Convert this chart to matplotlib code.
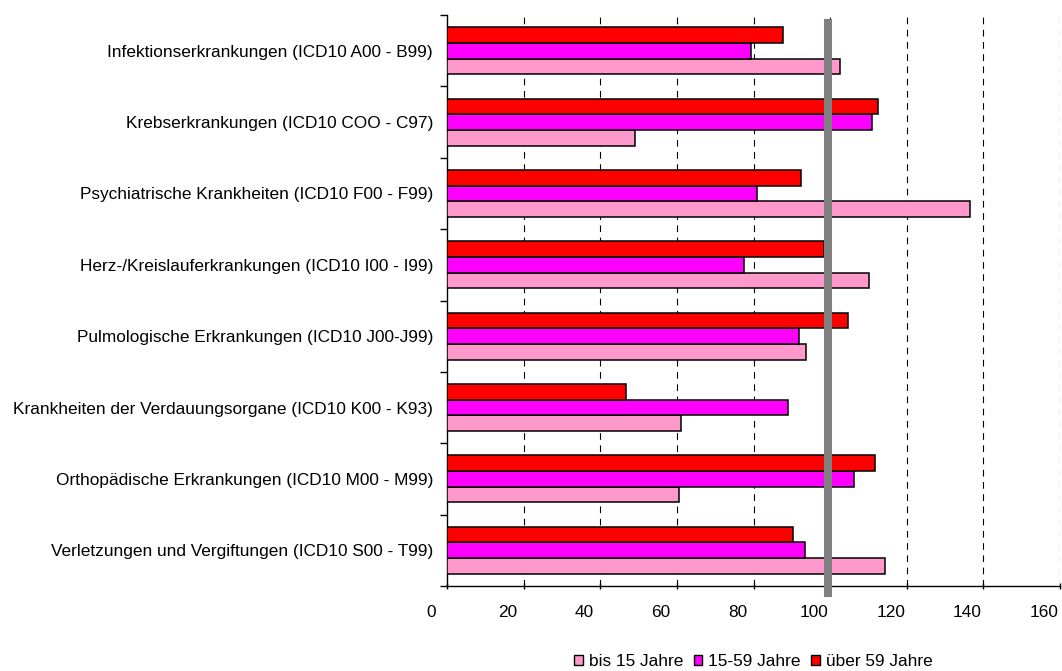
import matplotlib
matplotlib.use("Agg")
import matplotlib.pyplot as plt
import numpy as np
from matplotlib.patches import Patch
from matplotlib.transforms import ScaledTranslation

plt.rcParams['font.family'] = ['Liberation Sans', 'DejaVu Sans']

categories = [
    "Infektionserkrankungen (ICD10 A00 - B99)",
    "Krebserkrankungen (ICD10 COO - C97)",
    "Psychiatrische Krankheiten (ICD10 F00 - F99)",
    "Herz-/Kreislauferkrankungen (ICD10 I00 - I99)",
    "Pulmologische Erkrankungen (ICD10 J00-J99)",
    "Krankheiten der Verdauungsorgane (ICD10 K00 - K93)",
    "Orthopädische Erkrankungen (ICD10 M00 - M99)",
    "Verletzungen und Vergiftungen (ICD10 S00 - T99)",
]
bis15 = [102.5, 49.0, 136.5, 110.2, 93.8, 61.0, 60.6, 114.2]
age15_59 = [79.3, 111.0, 80.9, 77.4, 92.0, 89.1, 106.3, 93.4]
ueber59 = [87.7, 112.5, 92.4, 98.5, 104.6, 46.6, 111.8, 90.3]
series_names = ["bis 15 Jahre", "15-59 Jahre", "über 59 Jahre"]
reference = 99.4
xticks = [0, 20, 40, 60, 80, 100, 120, 140, 160]

colors = ["#FF99CC", "#FF00FF", "#FF0000"]
fs = 12.4

fig = plt.figure(figsize=(10.62, 6.71), dpi=100)
ax = fig.add_axes([447 / 1062, 1 - 586 / 671, 613 / 1062, 571 / 671])

y = np.arange(len(categories))
h = 0.22
for vals, off, col in zip([bis15, age15_59, ueber59], [h, 0, -h], colors):
    ax.barh(y + off, vals, height=h, color=col, edgecolor="black",
            linewidth=1.1, zorder=3)

# dashed grid
for x in xticks[1:]:
    ax.axvline(x, color="black", linewidth=0.8, dashes=(6, 5), zorder=1)

# reference line
ax.axvline(reference, ymin=-0.012, ymax=0.986, color="#808080",
           linewidth=5.8, zorder=4, clip_on=False)

ax.set_xlim(0, 160)
ax.set_ylim(len(categories) - 0.5, -0.5)

ax.set_xticks(xticks)
ax.tick_params(axis="x", direction="inout", length=5, width=1, pad=11,
               labelsize=fs)
shift = ScaledTranslation(-16 / 100, 0, fig.dpi_scale_trans)
for lab in ax.get_xticklabels():
    lab.set_transform(lab.get_transform() + shift)

ax.set_yticks(np.arange(len(categories) + 1) - 0.5)
ax.set_yticklabels([])
ax.set_yticks(y, minor=True)
ax.set_yticklabels(categories, minor=True)
ax.tick_params(axis="y", which="major", direction="out", length=5, width=1)
ax.tick_params(axis="y", which="minor", length=0, pad=10, labelsize=fs)

for s in ["top", "right"]:
    ax.spines[s].set_visible(False)
ax.spines["left"].set_linewidth(1)
ax.spines["bottom"].set_linewidth(1)

handles = [Patch(facecolor=c, edgecolor="black", linewidth=1) for c in colors]
fig.legend(handles, series_names, loc="center", bbox_to_anchor=(0.7095, 0.014),
           ncol=3, frameon=False, fontsize=fs, handlelength=0.5,
           handleheight=0.5, handletextpad=0.36, columnspacing=0.6)

fig.savefig("out.png", dpi=100)
